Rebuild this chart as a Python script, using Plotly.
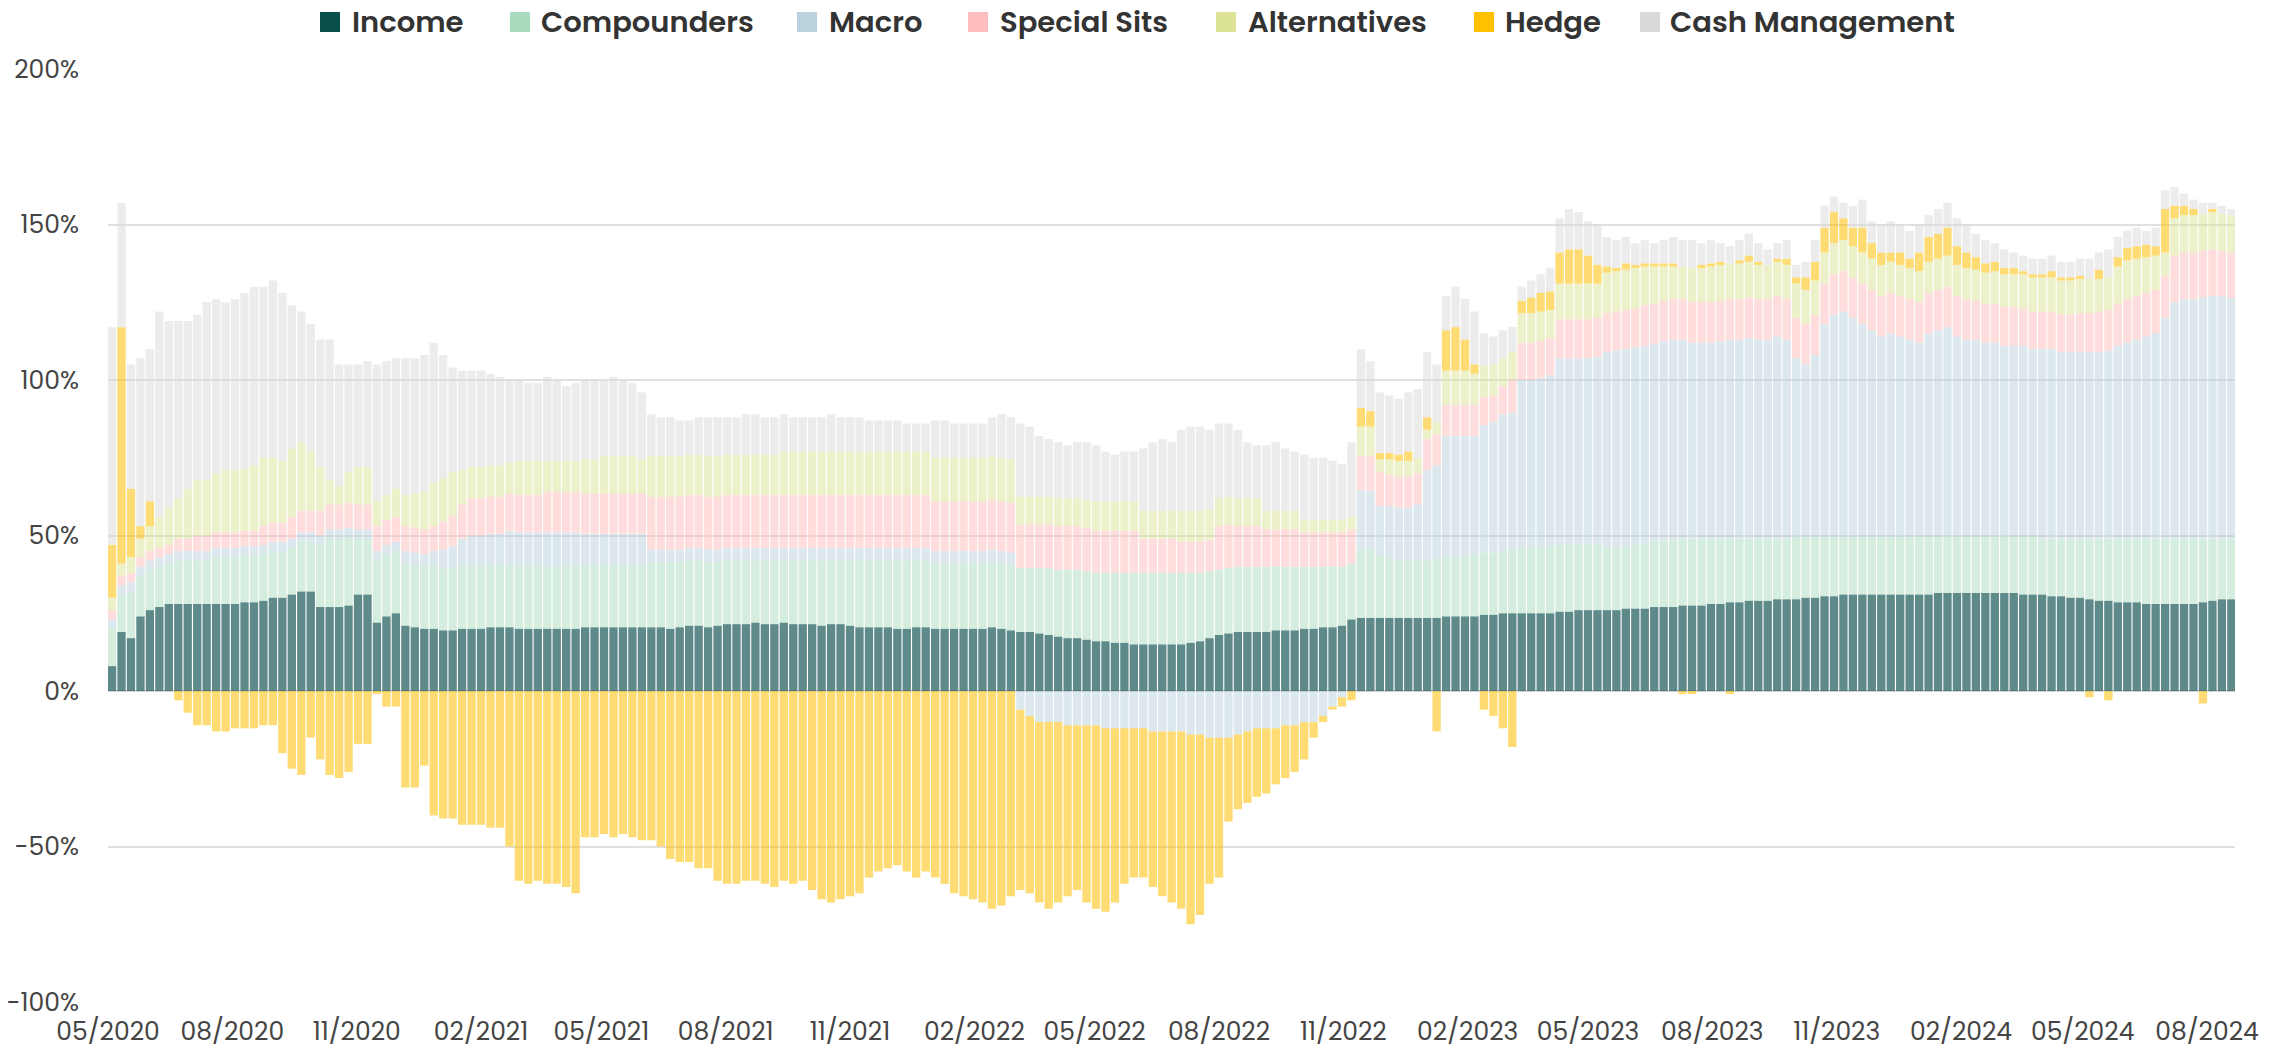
import pandas as pd
import plotly.graph_objects as go

dates = pd.date_range("2020-05-04", periods=225, freq="7D")

income = [
    8, 19, 17, 24, 26, 27, 28, 28, 28, 28, 28, 28, 28, 28, 28.5, 28.5, 29, 30, 30, 31,
    32, 32, 27, 27, 27, 27.5, 31, 31, 22, 24, 25, 21, 20.5, 20, 20, 19.5, 19.5,
    20, 20, 20, 20.5, 20.5, 20.5, 20, 20, 20, 20, 20, 20, 20, 20.5, 20.5, 20.5, 20.5, 20.5, 20.5, 20.5,
    20.5, 20.5, 20, 20.5, 21, 21, 20.5, 21, 21.5, 21.5, 21.5, 22, 21.5, 21.5, 22, 21.5, 21.5, 21.5, 21, 21.5,
    21.5, 21, 20.5, 20.5, 20.5, 20.5, 20, 20, 20.5, 20.5,
    20, 20, 20, 20, 20, 20, 20.5, 20, 19.5, 19, 19, 18.5, 18, 17.5, 17, 17, 16.5, 16, 16, 15.5,
    15.5, 15, 15, 15, 15, 15, 15, 15.5, 16, 17, 18, 18.5, 19, 19, 19, 19, 19.5, 19.5, 19.5, 20,
    20, 20.5, 20.5, 21,
    23, 23.5, 23.5, 23.5, 23.5, 23.5, 23.5, 23.5, 23.5, 23.5, 24, 24, 24, 24, 24.5, 24.5, 25, 25, 25, 25,
    25, 25, 25.5, 25.5, 26, 26, 26, 26, 26, 26.5, 26.5, 26.5, 27, 27, 27, 27.5, 27.5, 27.5,
    28, 28, 28.5, 28.5, 29, 29, 29, 29.5, 29.5, 29.5, 30, 30, 30.5, 30.5, 31, 31, 31, 31, 31, 31,
    31, 31, 31, 31, 31.5, 31.5, 31.5, 31.5, 31.5, 31.5, 31.5, 31.5, 31.5, 31, 31, 31, 30.5, 30.5, 30, 30,
    29.5, 29, 29, 28.5, 28.5, 28.5, 28, 28, 28, 28, 28, 28, 28.5, 29, 29.5, 29.5,
]

compounders = [
    12, 12, 15, 13, 13, 13, 13, 14, 14, 14, 14, 15, 15, 15, 15, 15, 15, 15, 15, 15,
    16, 16, 20, 22, 22, 22, 18, 18, 20, 20, 20, 20, 20, 20, 20, 20, 20,
    20, 20, 20, 20, 20, 20, 20, 20, 20, 20, 20, 20, 20, 20, 20, 20, 20, 20, 20, 20,
    21, 21, 21.5, 21, 21, 21, 21, 20.5, 20.5, 20.5, 20.5, 20, 20.5, 20.5, 20, 20.5, 20.5, 20.5, 21, 20.5,
    20.5, 21, 21.5, 21.5, 21.5, 21.5, 22, 22, 21.5, 21.5,
    21, 21, 21, 21, 21, 21, 21, 21, 21, 20.5, 20.5, 21, 21.5, 21.5, 22, 22, 22, 22, 22, 22.5,
    22.5, 23, 23, 23, 23, 23, 23, 22.5, 22, 21.5, 21, 21, 21, 21, 21, 21, 20.5, 20.5, 20.5, 20,
    20, 19.5, 19.5, 19,
    18, 22, 22, 20, 19, 18.5, 18.5, 18.5, 18.5, 19, 19, 19, 19.5, 20, 20, 20, 20, 20.5, 21, 21,
    21.5, 21.5, 21.5, 21.5, 21.5, 21.5, 21.5, 20, 20, 20, 20.5, 21, 21, 21.5, 21.5, 21.5, 21.5, 21.5,
    21, 21, 20.5, 20.5, 20, 20, 20, 19.5, 19.5, 20, 19.5, 19.5, 19, 19, 18.5, 18.5, 18.5, 18.5, 18.5, 18.5,
    18.5, 18.5, 19, 19, 18.5, 18.5, 18.5, 18.5, 18.5, 18.5, 18.5, 18.5, 18.5, 19, 19, 18, 18.5, 18.5, 19, 19,
    19.5, 20, 20, 20.5, 20.5, 20.5, 21, 21, 21, 21, 21, 21, 20.5, 20, 19.5, 19.5,
]

macro = [
    3, 3, 3, 3, 3, 3, 3, 3, 3, 3, 3, 3, 3, 3, 3, 3, 3, 3, 3, 3,
    3, 3, 3, 3, 3, 3, 3, 3, 3, 3, 3, 4, 4, 4, 5, 6, 7,
    9, 10, 10, 10, 10, 11, 11, 11, 11, 11, 11, 11, 11, 10, 10, 10, 10, 10, 10, 10,
    4, 4, 4, 4, 4, 4, 4, 4, 4, 4, 4, 4, 4, 4, 4, 4, 4, 4, 4, 4,
    4, 4, 4, 4, 4, 4, 4, 4, 4, 4,
    4, 4, 4, 4, 4, 4, 4, 4, 4, -6, -8, -10, -10, -10, -11, -11, -11, -11, -12, -12,
    -12, -12, -12, -13, -13, -13, -13, -14, -14, -15, -15, -15, -14, -13, -12, -12, -12, -11, -11, -10,
    -10, -8, -5, -2,
    0, 19, 19, 16, 17, 17, 17, 18, 29, 30, 39, 39, 38.5, 38, 41, 42, 44, 44, 54, 54,
    54, 55, 60, 60, 59.5, 59.5, 60, 63, 63.5, 63.5, 63.5, 63.5, 63.5, 64, 64.5, 64, 63, 63,
    63, 63.5, 64, 64, 64.5, 64, 64, 65, 64, 57.5, 55.5, 58.5, 68.5, 71.5, 72.5, 70.5, 68.5, 66.5, 64.5, 65.5,
    64.5, 63.5, 62, 65, 66, 67, 64, 63, 63, 62, 62, 61, 61, 61, 60, 61, 61, 60, 60, 60,
    60, 60, 60.5, 62, 63, 64, 65, 66, 71, 76, 77, 77, 77.5, 78, 78, 77.5,
]

special_sits = [
    3, 3, 3, 3, 3, 3, 3, 4, 4, 5, 5, 5, 5, 5, 5, 5, 6, 6, 6, 7,
    7, 7, 8, 8, 8, 8, 8, 8, 8, 8, 8, 8, 8, 8, 8, 9, 10,
    11, 12, 12, 12, 12, 12, 12, 12, 12, 13, 13, 13, 13, 13, 13, 13, 13, 13, 13, 13,
    17, 17, 17, 17, 17, 17, 17, 17, 17, 17, 17, 17, 17, 17, 17, 17, 17, 17, 17, 17,
    17, 17, 17, 17, 17, 17, 17, 17, 17, 17,
    16, 16, 16, 16, 16, 16, 16, 16, 16, 14, 14, 14, 14, 14, 14, 14, 14, 13.5, 13.5, 13.5,
    13.5, 13.5, 11, 11, 11, 11, 10, 10, 10, 10, 14, 14, 13, 13, 13, 12, 12, 12, 12, 11,
    11, 11, 11, 11,
    11, 11, 11, 11, 10, 10, 10, 10, 10, 10, 10, 10, 10, 10, 9, 8.5, 9, 10.5, 12, 12,
    12, 12, 12.5, 12.5, 12.5, 12.5, 12.5, 12.5, 12.5, 12.5, 12.5, 13, 13, 13, 13, 13, 13, 13,
    13, 13, 13, 13, 13, 13, 13, 13, 13, 13, 13, 13, 13, 13, 13, 13, 13, 13, 13, 13,
    13, 13, 13, 13, 13, 13, 13, 13, 12.5, 12.5, 12.5, 12.5, 12.5, 12, 12, 12, 12, 12, 12, 12.5,
    12.5, 13, 13, 13.5, 14, 14, 14, 14, 13.5, 15, 15, 15, 15, 15, 14.5, 14.5,
]

alternatives = [
    4, 4, 5, 6, 8, 10, 12, 13, 16, 18, 18, 19, 20, 20, 20, 21, 22, 21, 20, 22,
    22, 19, 14, 8, 6, 10, 12, 12, 8, 8, 9, 10, 11, 12, 14, 14, 14,
    11, 10, 10, 10, 10, 10, 11, 11, 11, 10, 10, 10, 10, 11, 11, 12, 12, 12, 12, 11,
    13, 13, 13, 13, 13, 13, 13, 13, 13, 13, 13, 13, 13, 13, 14, 14, 14, 14, 14, 14,
    14, 14, 14, 14, 14, 14, 14, 14, 14, 14,
    14, 14, 14, 14, 14, 14, 14, 14, 14, 9, 9, 9, 9, 9, 9, 9, 9, 9.5, 9.5, 9.5,
    9.5, 9.5, 9, 9, 9, 9, 10, 10, 10, 10, 9, 9, 9, 9, 9, 6, 6, 6, 6, 4,
    4, 4, 4, 4,
    4, 9.5, 9.5, 4, 5, 5, 5, 5, 3, 4, 11, 11, 11, 10, 10, 10, 9, 9, 9.5, 9.5,
    9.5, 9, 11.5, 11.5, 11.5, 11.5, 11, 13, 13, 13, 13, 12.5, 12, 11, 10.5, 10.5, 11, 11,
    11.5, 11.5, 11.5, 11.5, 11.5, 11, 11, 11, 11, 11, 11, 11, 10, 10, 10, 10, 10, 10, 10, 10,
    10, 10, 10, 10, 10, 10, 10, 10, 10, 10, 10.5, 10.5, 10.5, 11, 11, 11, 11, 11, 11, 11,
    11, 10.5, 10.5, 12, 12.5, 12, 11.5, 11, 7.5, 12, 12, 12, 12, 12, 12, 12,
]

hedge = [
    17, 76, 22, 4, 8, 0, 0, -3, -7, -11, -11, -13, -13, -12, -12, -12, -11, -11, -20, -25,
    -27, -15, -22, -27, -28, -26, -17, -17, -1, -5, -5, -31, -31, -24, -40, -41, -41,
    -43, -43, -43, -44, -44, -50, -61, -62, -61, -62, -62, -63, -65, -47, -47, -46, -47, -46, -47, -48,
    -48, -50, -54, -55, -55, -57, -57, -61, -62, -62, -61, -61, -62, -63, -61, -62, -61, -64, -67, -68,
    -67, -66, -65, -60, -58, -57, -56, -58, -60, -58,
    -60, -62, -65, -66, -67, -68, -70, -69, -66, -58, -57, -58, -60, -58, -55, -53, -57, -59, -59, -56,
    -50, -48, -48, -50, -53, -55, -57, -61, -58, -47, -45, -27, -24, -23, -22, -21, -18, -17, -15, -12,
    -5, -2, -1, -3,
    -3, 6, 5, 2, 2, 2, 3, 0, 4, -13, 13, 14, 10, 3, -6, -8, -12, -18, 4, 5,
    6, 6, 10, 11, 11, 9, 6, 2, 1, 2, 1, 1, 1, 1, 1, -1, -1, 1,
    1, 1, -1, 1, 2, 1, 0, 1, 2, 2, 4, 6, 8, 10, 7, 6, 8, 5, 4, 3,
    4, 3, 6, 8, 8, 9, 6, 5, 4, 3, 3, 2, 2, 1, 1, 1, 2, 1, 1, 1,
    -2, 3, -3, 3, 4, 4, 4, 3, 14, 4, 3, 2, -4, 1, 0, 0,
]

cash_management = [
    70, 40, 40, 54, 49, 66, 60, 57, 54, 53, 57, 56, 54, 55, 56.5, 57.5, 55, 57, 54, 46,
    42, 41, 41, 45, 39, 34.5, 33, 34, 44, 43, 42, 44, 43.5, 44, 45, 39.5, 33.5,
    32, 31, 31, 29.5, 28.5, 26.5, 26, 25, 25, 27, 26, 24, 25, 25.5, 25.5, 24.5, 25.5, 24.5, 23.5, 21.5,
    13.5, 12.5, 12.5, 11.5, 11, 12, 12.5, 12.5, 12, 12, 13, 13, 12, 12, 12, 11, 11, 11, 11, 12,
    11, 11, 11, 10, 10, 10, 10, 9, 9, 9,
    12, 12, 11, 11, 11, 11, 12.5, 14, 13.5, 23.5, 22.5, 19.5, 18.5, 18, 17, 18, 18.5, 18, 16, 15,
    16, 16, 20, 22, 23, 22, 26, 27, 27, 25.5, 24, 23.5, 22, 18, 17, 21, 22, 20, 19, 21,
    20, 20, 19, 18,
    24, 19, 16, 19.5, 18.5, 18, 19, 22, 21, 18.5, 11, 13, 13, 17, 10.5, 9, 9, 8, 4.5, 5.5,
    6, 7.5, 11, 13, 12, 11, 13, 9.5, 9, 8.5, 7, 7.5, 6.5, 7.5, 8.5, 8.5, 9, 7,
    7.5, 6, 5.5, 6.5, 7, 6, 5, 5, 6, 4, 5, 7, 7, 5, 5, 7, 9, 7, 9, 10,
    9, 9, 9, 7, 8, 8, 9, 9, 7.5, 7.5, 6, 6, 5, 5, 5, 5, 5, 5, 5, 5.5,
    6.5, 5.5, 9, 6.5, 5.5, 6, 4.5, 6, 6, 6, 4, 3, 3.5, 2, 2.5, 2,
]

series_names = ["Income", "Compounders", "Macro", "Special Sits", "Alternatives",
                "Hedge", "Cash Management"]
series_colors = ["#0b4f4d", "#a9dbbf", "#b9d2de", "#ffbcbc", "#dce394", "#ffc000", "#d9d9d9"]
bar_alpha = [0.66, 0.5, 0.5, 0.5, 0.5, 0.55, 0.5]

y_tick_values = [-100, -50, 0, 50, 100, 150, 200]
y_tick_labels = ["-100%", "-50%", "0%", "50%", "100%", "150%", "200%"]
x_tick_values = ["2020-05-01", "2020-08-01", "2020-11-01", "2021-02-01", "2021-05-01",
                 "2021-08-01", "2021-11-01", "2022-02-01", "2022-05-01", "2022-08-01",
                 "2022-11-01", "2023-02-01", "2023-05-01", "2023-08-01", "2023-11-01",
                 "2024-02-01", "2024-05-01", "2024-08-01"]
x_tick_labels = ["05/2020", "08/2020", "11/2020", "02/2021", "05/2021", "08/2021",
                 "11/2021", "02/2022", "05/2022", "08/2022", "11/2022", "02/2023",
                 "05/2023", "08/2023", "11/2023", "02/2024", "05/2024", "08/2024"]

all_series = [income, compounders, macro, special_sits, alternatives, hedge, cash_management]
for s in all_series:
    assert len(s) == len(dates), len(s)


def rgba(hex_color, a):
    h = hex_color.lstrip("#")
    r, g, b = int(h[0:2], 16), int(h[2:4], 16), int(h[4:6], 16)
    return f"rgba({r},{g},{b},{a})"


W, H = 2277, 1050
ML, MR, MT, MB = 108, 42, 69, 48
PW, PH = W - ML - MR, H - MT - MB

fig = go.Figure()
for name, vals, col, a in zip(series_names, all_series, series_colors, bar_alpha):
    fig.add_trace(go.Bar(
        x=dates, y=vals, name=name, showlegend=False,
        marker=dict(color=rgba(col, a), line=dict(width=0)),
    ))

# legend drawn as swatches + labels above the plot (pixel layout of the original)
font_family = "Poppins, 'Open Sans', sans-serif"
legend_swatch_px = [320, 510, 797, 968, 1216, 1474, 1640]
legend_text_px = [350, 539, 827, 998, 1246, 1503, 1668]
legend_center_y = 22
shapes, annotations = [], []
for name, col, sx, tx in zip(series_names, series_colors, legend_swatch_px, legend_text_px):
    shapes.append(dict(
        type="rect", xref="paper", yref="paper",
        x0=(sx - ML) / PW, x1=(sx + 20 - ML) / PW,
        y0=(H - MB - (legend_center_y + 10)) / PH, y1=(H - MB - (legend_center_y - 10)) / PH,
        fillcolor=col, line=dict(width=0),
    ))
    annotations.append(dict(
        text=name, xref="paper", yref="paper", x=(tx - ML) / PW,
        y=(H - MB - legend_center_y) / PH, xanchor="left", yanchor="middle",
        showarrow=False, font=dict(family=font_family, size=29, color="#333333", weight=600),
    ))

fig.update_layout(
    width=W, height=H,
    barmode="relative", bargap=0.12,
    plot_bgcolor="white", paper_bgcolor="white",
    margin=dict(l=ML, r=MR, t=MT, b=MB, autoexpand=False),
    font=dict(family=font_family, color="#444444"),
    showlegend=False,
    shapes=shapes, annotations=annotations,
    xaxis=dict(
        type="date", range=["2020-05-01", "2024-08-21 17:00"],
        tickmode="array", tickvals=x_tick_values, ticktext=x_tick_labels,
        showgrid=False, showline=False, zeroline=False, ticks="",
        tickfont=dict(size=25, color="#444444"), ticklabelstandoff=12, automargin=False,
    ),
    yaxis=dict(
        range=[-100, 200], tickmode="array", tickvals=y_tick_values, ticktext=y_tick_labels,
        showgrid=True, gridcolor="#e0e0e0", gridwidth=2,
        zeroline=True, zerolinecolor="#d4d4d4", zerolinewidth=2,
        showline=False, ticks="",
        tickfont=dict(size=25, color="#444444"), ticklabelstandoff=28, automargin=False,
    ),
)

fig.write_html(
    "out.html",
    config={"displayModeBar": False},
    post_script="document.body.style.margin='0';document.body.style.overflow='hidden';",
)
